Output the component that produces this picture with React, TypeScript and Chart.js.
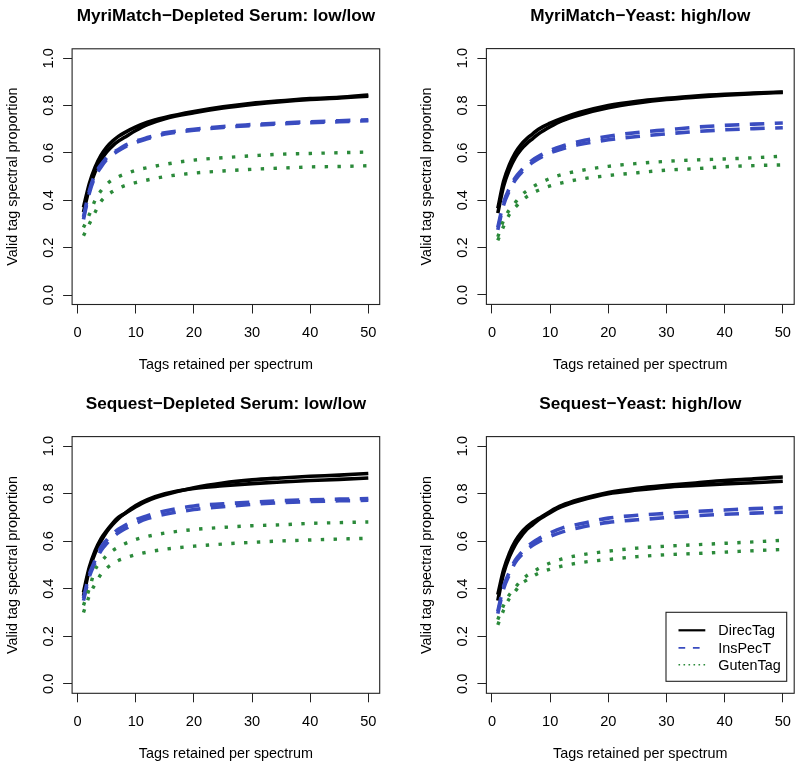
import React, { useEffect, useRef } from 'react';
import { Chart, registerables } from 'chart.js';

Chart.register(...registerables);

// ---------- data ----------
const tagCounts = [1, 2, 3, 4, 5, 6, 7, 8, 10, 12, 15, 20, 25, 30, 35, 40, 45, 50];
const xTickValues = [0, 10, 20, 30, 40, 50];
const xTickLabels = ['0', '10', '20', '30', '40', '50'];
const yTickValues = [0, 0.2, 0.4, 0.6, 0.8, 1.0];
const yTickLabels = ['0.0', '0.2', '0.4', '0.6', '0.8', '1.0'];
const toolNames = ['DirecTag', 'InsPecT', 'GutenTag'];
const panelTitles = [
  'MyriMatch\u2212Depleted Serum: low/low',
  'MyriMatch\u2212Yeast: high/low',
  'Sequest\u2212Depleted Serum: low/low',
  'Sequest\u2212Yeast: high/low',
];
const xAxisTitle = 'Tags retained per spectrum';
const yAxisTitle = 'Valid tag spectral proportion';

// MyriMatch - Depleted Serum
const mmSerumDirecTag1 = [0.37, 0.47, 0.54, 0.59, 0.625, 0.65, 0.67, 0.685, 0.71, 0.73, 0.75, 0.775, 0.795, 0.81, 0.82, 0.83, 0.835, 0.845];
const mmSerumDirecTag2 = [0.35, 0.45, 0.52, 0.57, 0.605, 0.63, 0.65, 0.665, 0.695, 0.72, 0.745, 0.77, 0.79, 0.805, 0.817, 0.826, 0.832, 0.84];
const mmSerumInsPecT1 = [0.33, 0.44, 0.51, 0.55, 0.58, 0.6, 0.615, 0.63, 0.65, 0.665, 0.685, 0.7, 0.712, 0.72, 0.727, 0.732, 0.736, 0.74];
const mmSerumInsPecT2 = [0.32, 0.43, 0.5, 0.54, 0.572, 0.593, 0.61, 0.624, 0.645, 0.66, 0.68, 0.696, 0.708, 0.716, 0.723, 0.728, 0.732, 0.736];
const mmSerumGutenTag1 = [0.285, 0.34, 0.4, 0.44, 0.468, 0.487, 0.5, 0.51, 0.527, 0.538, 0.552, 0.57, 0.58, 0.588, 0.595, 0.598, 0.601, 0.604];
const mmSerumGutenTag2 = [0.25, 0.3, 0.35, 0.395, 0.42, 0.437, 0.45, 0.461, 0.475, 0.486, 0.5, 0.515, 0.524, 0.531, 0.536, 0.541, 0.543, 0.546];

// MyriMatch - Yeast
const mmYeastDirecTag1 = [0.365, 0.48, 0.55, 0.6, 0.635, 0.66, 0.68, 0.7, 0.725, 0.745, 0.77, 0.8, 0.818, 0.83, 0.84, 0.847, 0.852, 0.857];
const mmYeastDirecTag2 = [0.345, 0.46, 0.53, 0.58, 0.615, 0.64, 0.66, 0.68, 0.71, 0.735, 0.76, 0.79, 0.81, 0.825, 0.835, 0.843, 0.85, 0.855];
const mmYeastInsPecT1 = [0.285, 0.39, 0.45, 0.495, 0.525, 0.55, 0.57, 0.585, 0.61, 0.628, 0.648, 0.67, 0.686, 0.697, 0.708, 0.716, 0.721, 0.726];
const mmYeastInsPecT2 = [0.275, 0.38, 0.44, 0.485, 0.515, 0.54, 0.56, 0.575, 0.6, 0.616, 0.635, 0.655, 0.669, 0.68, 0.69, 0.697, 0.702, 0.706];
const mmYeastGutenTag1 = [0.245, 0.315, 0.36, 0.39, 0.42, 0.44, 0.456, 0.47, 0.492, 0.508, 0.524, 0.543, 0.555, 0.564, 0.57, 0.574, 0.579, 0.586];
const mmYeastGutenTag2 = [0.23, 0.29, 0.34, 0.37, 0.395, 0.415, 0.43, 0.442, 0.46, 0.473, 0.488, 0.504, 0.516, 0.527, 0.533, 0.541, 0.546, 0.549];

// Sequest - Depleted Serum
const sqSerumDirecTag1 = [0.385, 0.49, 0.56, 0.61, 0.645, 0.675, 0.7, 0.715, 0.745, 0.77, 0.795, 0.825, 0.845, 0.858, 0.866, 0.873, 0.878, 0.885];
const sqSerumDirecTag2 = [0.37, 0.48, 0.55, 0.6, 0.64, 0.67, 0.695, 0.715, 0.75, 0.775, 0.8, 0.822, 0.833, 0.842, 0.849, 0.855, 0.86, 0.866];
const sqSerumInsPecT1 = [0.36, 0.46, 0.52, 0.575, 0.605, 0.63, 0.65, 0.665, 0.69, 0.707, 0.727, 0.748, 0.757, 0.764, 0.77, 0.774, 0.777, 0.779];
const sqSerumInsPecT2 = [0.35, 0.45, 0.51, 0.56, 0.59, 0.615, 0.635, 0.65, 0.675, 0.695, 0.713, 0.733, 0.745, 0.755, 0.762, 0.767, 0.77, 0.772];
const sqSerumGutenTag1 = [0.33, 0.4, 0.48, 0.512, 0.54, 0.56, 0.575, 0.588, 0.607, 0.62, 0.634, 0.649, 0.658, 0.665, 0.669, 0.675, 0.678, 0.681];
const sqSerumGutenTag2 = [0.3, 0.37, 0.42, 0.46, 0.487, 0.505, 0.519, 0.528, 0.543, 0.554, 0.566, 0.579, 0.588, 0.595, 0.601, 0.605, 0.609, 0.612];

// Sequest - Yeast
const sqYeastDirecTag1 = [0.375, 0.48, 0.55, 0.6, 0.635, 0.66, 0.68, 0.695, 0.725, 0.75, 0.775, 0.805, 0.823, 0.835, 0.845, 0.855, 0.862, 0.87];
const sqYeastDirecTag2 = [0.35, 0.465, 0.535, 0.585, 0.62, 0.65, 0.67, 0.69, 0.72, 0.745, 0.77, 0.8, 0.815, 0.827, 0.834, 0.841, 0.846, 0.852];
const sqYeastInsPecT1 = [0.305, 0.41, 0.47, 0.52, 0.55, 0.575, 0.595, 0.61, 0.635, 0.655, 0.672, 0.697, 0.709, 0.717, 0.725, 0.731, 0.737, 0.741];
const sqYeastInsPecT2 = [0.295, 0.4, 0.46, 0.51, 0.54, 0.565, 0.583, 0.597, 0.62, 0.638, 0.657, 0.679, 0.69, 0.699, 0.707, 0.713, 0.718, 0.722];
const sqYeastGutenTag1 = [0.27, 0.33, 0.375, 0.405, 0.435, 0.455, 0.47, 0.485, 0.508, 0.525, 0.541, 0.558, 0.571, 0.579, 0.585, 0.591, 0.597, 0.604];
const sqYeastGutenTag2 = [0.248, 0.31, 0.36, 0.39, 0.42, 0.437, 0.452, 0.465, 0.482, 0.495, 0.509, 0.523, 0.535, 0.543, 0.548, 0.554, 0.56, 0.565];

const panelSeries = [
  [mmSerumDirecTag1, mmSerumDirecTag2, mmSerumInsPecT1, mmSerumInsPecT2, mmSerumGutenTag1, mmSerumGutenTag2],
  [mmYeastDirecTag1, mmYeastDirecTag2, mmYeastInsPecT1, mmYeastInsPecT2, mmYeastGutenTag1, mmYeastGutenTag2],
  [sqSerumDirecTag1, sqSerumDirecTag2, sqSerumInsPecT1, sqSerumInsPecT2, sqSerumGutenTag1, sqSerumGutenTag2],
  [sqYeastDirecTag1, sqYeastDirecTag2, sqYeastInsPecT1, sqYeastInsPecT2, sqYeastGutenTag1, sqYeastGutenTag2],
];

// ---------- styles / layout ----------
const toolStyles = [
  { color: '#000000', width: 3.6, dash: [] as number[], order: 2, legendWidth: 2.2, legendDash: [] as number[] },
  { color: '#3a4cc0', width: 3.6, dash: [14.5, 10.5], order: 1, legendWidth: 1.8, legendDash: [6.7, 7.7] },
  { color: '#2b8a3a', width: 3.4, dash: [3.4, 9.4], order: 0, legendWidth: 1.6, legendDash: [1.6, 3.4] },
];

const CW = 400;
const CH = 383;
const panelBoxes = [
  { left: 0, top: 0, plotL: 72.1, plotT: 48.8, plotR: 379.7, plotB: 304.5 },
  { left: 400, top: 0, plotL: 86.4, plotT: 48.6, plotR: 394.2, plotB: 304.4 },
  { left: 0, top: 383, plotL: 72.1, plotT: 53.6, plotR: 379.7, plotB: 310.3 },
  { left: 400, top: 383, plotL: 86.4, plotT: 53.6, plotR: 394.2, plotB: 310.3 },
];
const FONT = '"Liberation Sans", Arial, Helvetica, sans-serif';
const AXIS_COLOR = '#222222';

function Panel({ index }: { index: number }) {
  const ref = useRef<HTMLCanvasElement | null>(null);
  const box = panelBoxes[index];

  useEffect(() => {
    const canvas = ref.current;
    if (!canvas) return;
    const series = panelSeries[index];

    const datasets = series.map((vals, i) => {
      const tool = Math.floor(i / 2);
      const st = toolStyles[tool];
      return {
        label: toolNames[tool],
        data: tagCounts.map((x, j) => ({ x, y: vals[j] })),
        borderColor: st.color,
        backgroundColor: st.color,
        borderWidth: st.width,
        borderDash: st.dash,
        borderCapStyle: 'butt' as const,
        borderJoinStyle: 'round' as const,
        pointRadius: 0,
        pointHoverRadius: 0,
        fill: false,
        cubicInterpolationMode: 'monotone' as const,
        order: st.order,
      };
    });

    const decor = {
      id: 'decor' + index,
      afterDatasetsDraw(chart: any) {
        const { left, right, top, bottom } = chart.chartArea;
        const ctx = chart.ctx;
        ctx.save();
        ctx.strokeStyle = AXIS_COLOR;
        ctx.lineWidth = 1.1;
        ctx.setLineDash([]);
        ctx.strokeRect(left, top, right - left, bottom - top);
        ctx.restore();
      },
      afterDraw(chart: any) {
        const { left, right, top, bottom } = chart.chartArea;
        const ctx = chart.ctx;
        const xs = chart.scales.x;
        const ys = chart.scales.y;
        ctx.save();
        ctx.fillStyle = '#000';
        ctx.textAlign = 'center';
        ctx.textBaseline = 'alphabetic';
        ctx.font = 'bold 17.2px ' + FONT;
        ctx.fillText(panelTitles[index], (left + right) / 2, top - 28);

        ctx.font = '14.6px ' + FONT;
        xTickValues.forEach((v, i) => {
          ctx.fillText(xTickLabels[i], xs.getPixelForValue(v), bottom + 32.4);
        });
        ctx.font = '14.4px ' + FONT;
        ctx.fillText(xAxisTitle, (left + right) / 2, bottom + 64.8);

        ctx.font = '14.6px ' + FONT;
        yTickValues.forEach((v, i) => {
          ctx.save();
          ctx.translate(left - 19.2, ys.getPixelForValue(v));
          ctx.rotate(-Math.PI / 2);
          ctx.fillText(yTickLabels[i], 0, 0);
          ctx.restore();
        });
        ctx.font = '14.4px ' + FONT;
        ctx.save();
        ctx.translate(left - 55.5, (top + bottom) / 2);
        ctx.rotate(-Math.PI / 2);
        ctx.fillText(yAxisTitle, 0, 0);
        ctx.restore();

        if (index === 3) {
          const lw = 120.7;
          const lh = 69;
          const lx = right - 7.5 - lw;
          const ly = bottom - 12 - lh;
          ctx.fillStyle = '#fff';
          ctx.fillRect(lx, ly, lw, lh);
          ctx.strokeStyle = AXIS_COLOR;
          ctx.lineWidth = 1.1;
          ctx.strokeRect(lx, ly, lw, lh);
          const rows = [18, 35.5, 52.4];
          toolNames.forEach((name, t) => {
            const st = toolStyles[t];
            const yy = ly + rows[t];
            ctx.beginPath();
            ctx.strokeStyle = st.color;
            ctx.lineWidth = st.legendWidth;
            ctx.setLineDash(st.legendDash);
            ctx.lineCap = 'butt';
            ctx.moveTo(lx + 12.5, yy);
            ctx.lineTo(lx + 39.3, yy);
            ctx.stroke();
            ctx.setLineDash([]);
            ctx.fillStyle = '#000';
            ctx.textAlign = 'left';
            ctx.textBaseline = 'middle';
            ctx.font = '14.4px ' + FONT;
            ctx.fillText(name, lx + 52.3, yy + 1);
          });
        }
        ctx.restore();
      },
    };

    const gridOpts = {
      display: true,
      drawOnChartArea: false,
      drawTicks: true,
      tickLength: 9,
      color: AXIS_COLOR,
      lineWidth: 1,
    };

    const chart = new Chart(canvas, {
      type: 'line',
      data: { datasets },
      options: {
        responsive: false,
        maintainAspectRatio: false,
        animation: false,
        devicePixelRatio: 1,
        events: [],
        layout: { padding: { left: 0, top: box.plotT, right: CW - box.plotR, bottom: 0 } },
        plugins: {
          legend: { display: false },
          tooltip: { enabled: false },
          title: { display: false },
        },
        scales: {
          x: {
            type: 'linear',
            position: 'bottom',
            min: -0.96,
            max: 51.96,
            afterBuildTicks: (s: any) => {
              s.ticks = xTickValues.map((v) => ({ value: v }));
            },
            afterFit: (s: any) => {
              s.height = CH - box.plotB;
            },
            ticks: { display: false },
            grid: gridOpts,
            border: { display: false },
          },
          y: {
            type: 'linear',
            position: 'left',
            min: -0.04,
            max: 1.04,
            afterBuildTicks: (s: any) => {
              s.ticks = yTickValues.map((v) => ({ value: v }));
            },
            afterFit: (s: any) => {
              s.width = box.plotL;
            },
            ticks: { display: false },
            grid: gridOpts,
            border: { display: false },
          },
        },
      } as any,
      plugins: [decor],
    });
    return () => chart.destroy();
  }, [index]);

  return (
    <canvas
      ref={ref}
      width={CW}
      height={CH}
      style={{ position: 'absolute', left: box.left, top: box.top, width: CW, height: CH, display: 'block' }}
    />
  );
}

export default function App() {
  return (
    <div style={{ position: 'absolute', left: 0, top: 0, width: 800, height: 766, background: '#ffffff', overflow: 'hidden' }}>
      {[0, 1, 2, 3].map((i) => (
        <Panel key={i} index={i} />
      ))}
    </div>
  );
}
